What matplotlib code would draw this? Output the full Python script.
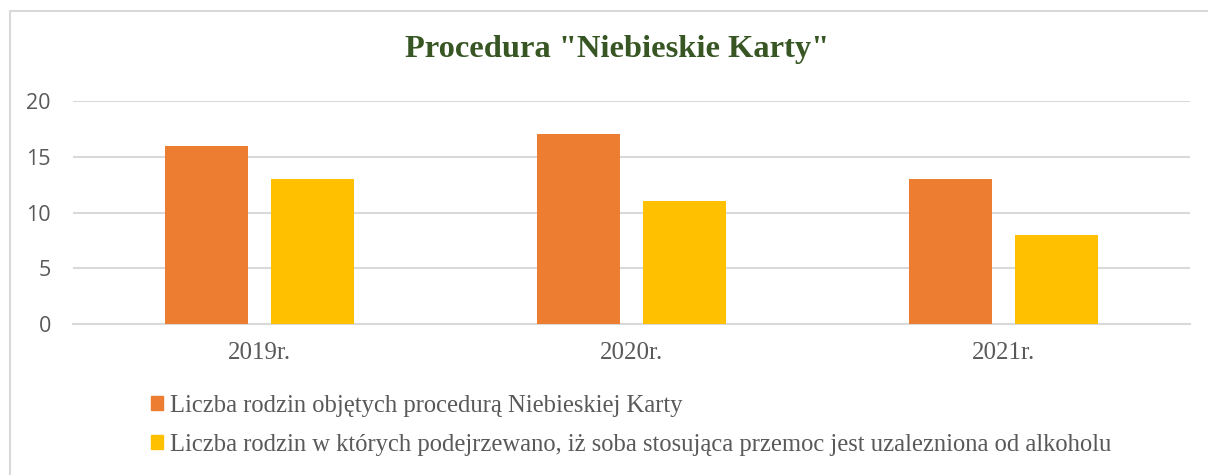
import matplotlib
matplotlib.use('Agg')
import matplotlib.pyplot as plt
from matplotlib.patches import Rectangle, Patch
import numpy as np

years = ['2019r.', '2020r.', '2021r.']
families_total = [16, 17, 13]
families_alcohol = [13, 11, 8]
series_labels = [
    'Liczba rodzin objętych procedurą Niebieskiej Karty',
    'Liczba rodzin w których podejrzewano, iż soba stosująca przemoc jest uzalezniona od alkoholu',
]
colors = ['#ED7D31', '#FFC000']

W, H = 1208, 475
fig = plt.figure(figsize=(W / 100, H / 100), dpi=100)
ax = fig.add_axes([73 / W, 1 - 324 / H, (1190 - 73) / W, (324 - 101) / H])

x = np.arange(len(years))
bw = 0.223
off = 0.285 / 2
ax.bar(x - off, families_total, bw, color=colors[0], zorder=3)
ax.bar(x + off, families_alcohol, bw, color=colors[1], zorder=3)

ax.set_xlim(-0.5, 2.5)
ax.set_ylim(0, 20)
ax.set_yticks([0, 5, 10, 15, 20])
ax.grid(axis='y', color='#d9d9d9', linewidth=1.5, zorder=0)
for s in ['top', 'right', 'left']:
    ax.spines[s].set_visible(False)
ax.spines['bottom'].set_color('#d9d9d9')
ax.spines['bottom'].set_linewidth(1.5)
ax.tick_params(axis='both', length=0)
ax.tick_params(axis='y', pad=16, labelsize=15.5, labelcolor='#595959')
ax.set_yticklabels([str(v) for v in [0, 5, 10, 15, 20]], family='Open Sans')
ax.set_xticks(x)
ax.set_xticklabels(years, family='Liberation Serif', fontsize=18, color='#595959')
ax.tick_params(axis='x', pad=13)

fig.text(617 / W, 1 - 49 / H, 'Procedura "Niebieskie Karty"', ha='center', va='center',
         family='Liberation Serif', fontweight='bold', fontsize=23.4, color='#375623')

handles = [Patch(color=c) for c in colors]
fig.legend(handles, series_labels, loc='upper left', bbox_to_anchor=(151 / W, 1 - 395 / H),
           frameon=False, prop={'family': 'Liberation Serif', 'size': 17.7},
           labelcolor='#595959', handlelength=0.49, handleheight=0.49, handletextpad=0.3,
           labelspacing=0.68, borderaxespad=0, borderpad=0)

fig.patches.append(Rectangle((9.5 / W, -0.1), 2, 1.1 - 11 / H, transform=fig.transFigure,
                             fill=False, edgecolor='#d9d9d9', linewidth=1.5))

fig.savefig('out.png', dpi=100)
